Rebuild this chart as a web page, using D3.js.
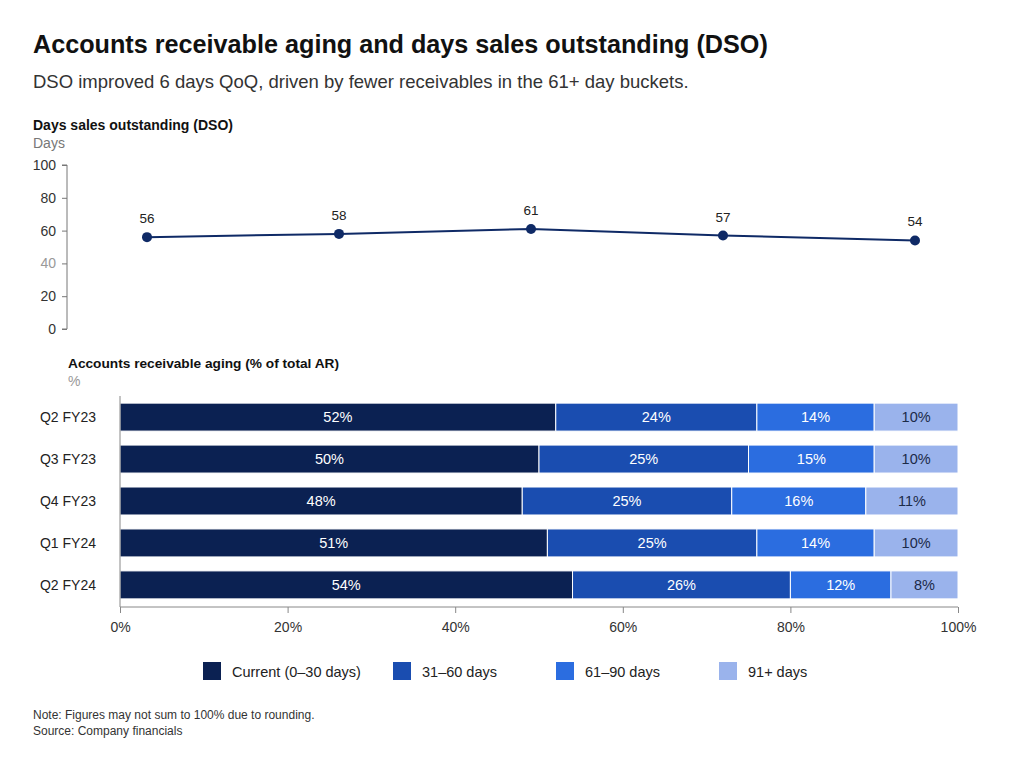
<!DOCTYPE html>
<html><head><meta charset="utf-8">
<script src="https://cdn.jsdelivr.net/npm/d3@7"></script>
<style>
body{margin:0;background:#fff;}
svg{display:block;font-family:"Liberation Sans",Arial,sans-serif;}
</style></head>
<body><svg id="c" width="1024" height="768"></svg>
<script>
const quarters = ["Q2 FY23","Q3 FY23","Q4 FY23","Q1 FY24","Q2 FY24"];
const dso = [56,58,61,57,54];
const dsoTicks = [0,20,40,60,80,100];
const buckets = ["Current (0–30 days)","31–60 days","61–90 days","91+ days"];
const current = [52,50,48,51,54];
const d31_60 = [24,25,25,25,26];
const d61_90 = [14,15,16,14,12];
const d91 = [10,10,11,10,8];
const pctTicks = [0,20,40,60,80,100];
const colors = ["#0b2152","#1a4db0","#2b6de0","#9ab3ec"];
const labelColors = ["#fff","#fff","#fff","#1c2a48"];

const svg = d3.select("#c");

// titles
svg.append("text").attr("x",33).attr("y",53).attr("font-size",25.2).attr("font-weight","bold").attr("fill","#111")
  .text("Accounts receivable aging and days sales outstanding (DSO)");
svg.append("text").attr("x",33).attr("y",88).attr("font-size",18.5).attr("fill","#333")
  .text("DSO improved 6 days QoQ, driven by fewer receivables in the 61+ day buckets.");

// line chart
svg.append("text").attr("x",33).attr("y",130).attr("font-size",14).attr("font-weight","bold").attr("fill","#111").text("Days sales outstanding (DSO)");
svg.append("text").attr("x",33).attr("y",148).attr("font-size",14).attr("fill","#777").text("Days");

const xL = d3.scalePoint().domain(quarters).range([147,915]);
const yL = d3.scaleLinear().domain([0,100]).range([329,165]);
const gy = svg.append("g").attr("transform","translate(67,0)")
  .call(d3.axisLeft(yL).tickValues(dsoTicks).tickSize(5).tickPadding(6));
gy.select(".domain").attr("stroke","#777").attr("d","M-5,"+yL(100)+"H0V"+yL(0)+"H-5");
gy.selectAll(".tick line").attr("stroke","#777");
gy.selectAll(".tick text").attr("font-size",14).attr("fill",d=>d===40?"#999":"#333").attr("font-family","Liberation Sans,Arial,sans-serif");

svg.append("path").datum(dso)
  .attr("d",d3.line().x((d,i)=>xL(quarters[i])).y(d=>yL(d)))
  .attr("fill","none").attr("stroke","#0f2a66").attr("stroke-width",2);
svg.selectAll("circle.dot").data(dso).join("circle").attr("class","dot")
  .attr("cx",(d,i)=>xL(quarters[i])).attr("cy",d=>yL(d)).attr("r",5).attr("fill","#0f2a66");
svg.selectAll("text.dl").data(dso).join("text").attr("class","dl")
  .attr("x",(d,i)=>xL(quarters[i])).attr("y",d=>yL(d)-14).attr("text-anchor","middle")
  .attr("font-size",13.5).attr("fill","#222").text(d=>d);

// bar chart
svg.append("text").attr("x",68).attr("y",368).attr("font-size",13.7).attr("font-weight","bold").attr("fill","#111").text("Accounts receivable aging (% of total AR)");
svg.append("text").attr("x",68).attr("y",386).attr("font-size",14).attr("fill","#999").text("%");

const xB = d3.scaleLinear().domain([0,100]).range([120,958]);
const yB = d3.scaleBand().domain(quarters).range([396,606]).paddingInner(0.333).paddingOuter(0.17);
const series = [current,d31_60,d61_90,d91];
const rows = quarters.map((q,i)=>{const o={q}; buckets.forEach((b,j)=>o[b]=series[j][i]); return o;});
const stack = d3.stack().keys(buckets)(rows);

stack.forEach((s,j)=>{
  const g = svg.append("g");
  g.selectAll("rect").data(s).join("rect")
    .attr("x",d=>xB(d[0])).attr("width",d=>xB(d[1])-xB(d[0]))
    .attr("y",d=>yB(d.data.q)).attr("height",yB.bandwidth())
    .attr("fill",colors[j]).attr("stroke","#fff").attr("stroke-width",1);
  g.selectAll("text").data(s).join("text")
    .attr("x",d=>(xB(d[0])+xB(d[1]))/2).attr("y",d=>yB(d.data.q)+yB.bandwidth()/2+5)
    .attr("text-anchor","middle").attr("font-size",14.5).attr("fill",labelColors[j])
    .text(d=>(d[1]-d[0])+"%");
});

svg.append("line").attr("x1",120).attr("x2",120).attr("y1",396).attr("y2",607).attr("stroke","#888");
const gx = svg.append("g").attr("transform","translate(0,607)")
  .call(d3.axisBottom(xB).tickValues(pctTicks).tickSize(6).tickPadding(9).tickFormat(d=>d+"%"));
gx.select(".domain").attr("stroke","#888").attr("d","M120,0H958");
gx.selectAll(".tick line").attr("stroke","#888");
gx.selectAll(".tick text").attr("font-size",14).attr("fill","#333").attr("font-family","Liberation Sans,Arial,sans-serif");

const gyb = svg.append("g");
gyb.selectAll("text").data(quarters).join("text")
  .attr("x",96).attr("y",d=>yB(d)+yB.bandwidth()/2+5).attr("text-anchor","end")
  .attr("font-size",14).attr("fill","#222").text(d=>d);

// legend
const legX = [203,393,556,719];
const lg = svg.append("g");
buckets.forEach((b,j)=>{
  lg.append("rect").attr("x",legX[j]).attr("y",662).attr("width",18).attr("height",18).attr("fill",colors[j]);
  lg.append("text").attr("x",legX[j]+29).attr("y",677).attr("font-size",14.5).attr("fill","#222").text(b);
});

// footnotes
svg.append("text").attr("x",33).attr("y",719).attr("font-size",12).attr("fill","#333").text("Note: Figures may not sum to 100% due to rounding.");
svg.append("text").attr("x",33).attr("y",735).attr("font-size",12).attr("fill","#333").text("Source: Company financials");
</script></body></html>
